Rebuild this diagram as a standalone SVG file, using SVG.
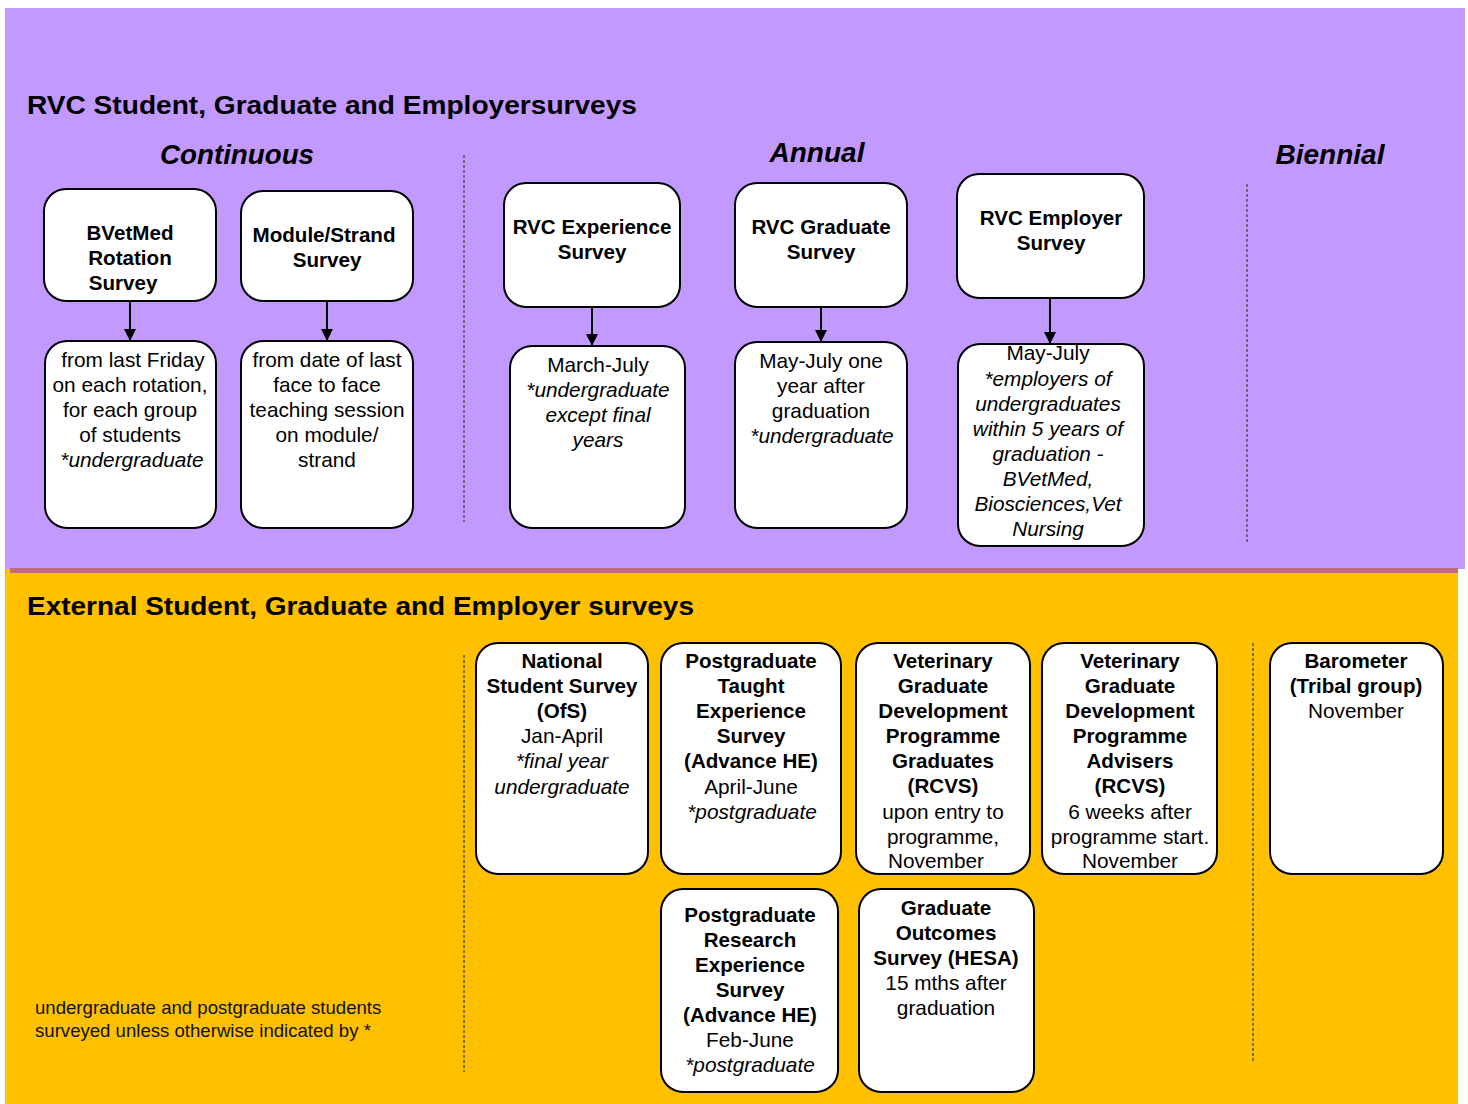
<svg xmlns="http://www.w3.org/2000/svg" width="1468" height="1104" viewBox="0 0 1468 1104">
<style>
.box{fill:#fff;stroke:#000;stroke-width:2}
.t{font-family:"Liberation Sans",Arial,sans-serif;font-size:20.8px;fill:#000;text-anchor:middle}
.b{font-weight:bold;font-size:20.6px}
.i{font-style:italic}
.h{font-family:"Liberation Sans",Arial,sans-serif;font-size:26.5px;font-weight:bold;fill:#000}
.hi{font-family:"Liberation Sans",Arial,sans-serif;font-size:27px;font-weight:bold;font-style:italic;fill:#000;text-anchor:middle}
.fn{font-family:"Liberation Sans",Arial,sans-serif;font-size:18.6px;fill:#111}
.dash{stroke:#555;stroke-width:1.5;stroke-dasharray:3 2;fill:none}
.conn{stroke:#000;stroke-width:2;fill:none}
</style>
<defs>
<marker id="arr" viewBox="0 0 12 12" refX="12" refY="6" markerWidth="12" markerHeight="12" markerUnits="userSpaceOnUse" orient="auto">
<path d="M0,0 L12,6 L0,12 Z" fill="#000"/>
</marker>
</defs>
<rect x="0" y="0" width="1468" height="1104" fill="#fff"/>
<rect x="5" y="8" width="1460" height="561" fill="#C299FF"/>
<rect x="5" y="569" width="1453" height="535" fill="#FFC000"/>
<rect x="10" y="568" width="1448" height="5" fill="#BF7070"/>

<text class="h" x="27" y="114" textLength="610" lengthAdjust="spacingAndGlyphs">RVC Student, Graduate and Employersurveys</text>
<text class="hi" x="237" y="164" textLength="154" lengthAdjust="spacingAndGlyphs">Continuous</text>
<text class="hi" x="817" y="162" textLength="95" lengthAdjust="spacingAndGlyphs">Annual</text>
<text class="hi" x="1330" y="164" textLength="109" lengthAdjust="spacingAndGlyphs">Biennial</text>
<text class="h" x="27" y="615" textLength="667" lengthAdjust="spacingAndGlyphs">External Student, Graduate and Employer surveys</text>

<g id="dividers">
<line class="dash" x1="464" y1="155" x2="464" y2="522"/>
<line class="dash" x1="1247" y1="184" x2="1247" y2="543"/>
<line class="dash" x1="464" y1="655" x2="464" y2="1072"/>
<line class="dash" x1="1253" y1="643" x2="1253" y2="1062"/>
</g>

<g id="connectors">
<line class="conn" x1="130" y1="301" x2="130" y2="341" marker-end="url(#arr)"/>
<line class="conn" x1="327" y1="301" x2="327" y2="341" marker-end="url(#arr)"/>
<line class="conn" x1="592" y1="307" x2="592" y2="346" marker-end="url(#arr)"/>
<line class="conn" x1="821" y1="307" x2="821" y2="342" marker-end="url(#arr)"/>
<line class="conn" x1="1050" y1="298" x2="1050" y2="344" marker-end="url(#arr)"/>
</g>

<g id="bvetmed">
<rect class="box" x="44" y="189" width="172" height="112" rx="22"/>
<text class="t b" x="130" y="240">BVetMed</text>
<text class="t b" x="130" y="265">Rotation</text>
<text class="t b" x="123" y="290">Survey</text>
</g>
<g id="module">
<rect class="box" x="241" y="191" width="172" height="110" rx="22"/>
<text class="t b" x="324" y="242">Module/Strand</text>
<text class="t b" x="327" y="267">Survey</text>
</g>
<g id="rvcexp">
<rect class="box" x="504" y="183" width="176" height="124" rx="22"/>
<text class="t b" x="592" y="234">RVC Experience</text>
<text class="t b" x="592" y="259">Survey</text>
</g>
<g id="rvcgrad">
<rect class="box" x="735" y="183" width="172" height="124" rx="22"/>
<text class="t b" x="821" y="234">RVC Graduate</text>
<text class="t b" x="821" y="259">Survey</text>
</g>
<g id="rvcemp">
<rect class="box" x="957" y="174" width="187" height="124" rx="22"/>
<text class="t b" x="1051" y="225">RVC Employer</text>
<text class="t b" x="1051" y="250">Survey</text>
</g>

<g id="bvetmed-detail">
<rect class="box" x="45" y="341" width="171" height="187" rx="22"/>
<text class="t" x="133" y="367">from last Friday</text>
<text class="t" x="130" y="392">on each rotation,</text>
<text class="t" x="130" y="417">for each group</text>
<text class="t" x="130" y="442">of students</text>
<text class="t i" x="132" y="467">*undergraduate</text>
</g>
<g id="module-detail">
<rect class="box" x="241" y="341" width="172" height="187" rx="22"/>
<text class="t" x="327" y="367">from date of last</text>
<text class="t" x="327" y="392">face to face</text>
<text class="t" x="327" y="417">teaching session</text>
<text class="t" x="327" y="442">on module/</text>
<text class="t" x="327" y="467">strand</text>
</g>
<g id="rvcexp-detail">
<rect class="box" x="510" y="346" width="175" height="182" rx="22"/>
<text class="t" x="598" y="372">March-July</text>
<text class="t i" x="598" y="397">*undergraduate</text>
<text class="t i" x="598" y="422">except final</text>
<text class="t i" x="598" y="447">years</text>
</g>
<g id="rvcgrad-detail">
<rect class="box" x="735" y="342" width="172" height="186" rx="22"/>
<text class="t" x="821" y="368">May-July one</text>
<text class="t" x="821" y="393">year after</text>
<text class="t" x="821" y="418">graduation</text>
<text class="t i" x="822" y="443">*undergraduate</text>
</g>
<g id="rvcemp-detail">
<rect class="box" x="958" y="344" width="186" height="202" rx="22"/>
<text class="t" x="1048" y="360">May-July</text>
<text class="t i" x="1048" y="386">*employers of</text>
<text class="t i" x="1048" y="411">undergraduates</text>
<text class="t i" x="1048" y="436">within 5 years of</text>
<text class="t i" x="1048" y="461">graduation -</text>
<text class="t i" x="1048" y="486">BVetMed,</text>
<text class="t i" x="1048" y="511">Biosciences,Vet</text>
<text class="t i" x="1048" y="536">Nursing</text>
</g>

<g id="nss">
<rect class="box" x="476" y="643" width="172" height="231" rx="22"/>
<text class="t b" x="562" y="668">National</text>
<text class="t b" x="562" y="693">Student Survey</text>
<text class="t b" x="562" y="718">(OfS)</text>
<text class="t" x="562" y="743">Jan-April</text>
<text class="t i" x="562" y="768">*final year</text>
<text class="t i" x="562" y="794">undergraduate</text>
</g>
<g id="ptes">
<rect class="box" x="661" y="643" width="180" height="231" rx="22"/>
<text class="t b" x="751" y="668">Postgraduate</text>
<text class="t b" x="751" y="693">Taught</text>
<text class="t b" x="751" y="718">Experience</text>
<text class="t b" x="751" y="743">Survey</text>
<text class="t b" x="751" y="768">(Advance HE)</text>
<text class="t" x="751" y="794">April-June</text>
<text class="t i" x="752" y="819">*postgraduate</text>
</g>
<g id="vgdp-graduates">
<rect class="box" x="856" y="643" width="174" height="231" rx="22"/>
<text class="t b" x="943" y="668">Veterinary</text>
<text class="t b" x="943" y="693">Graduate</text>
<text class="t b" x="943" y="718">Development</text>
<text class="t b" x="943" y="743">Programme</text>
<text class="t b" x="943" y="768">Graduates</text>
<text class="t b" x="943" y="793">(RCVS)</text>
<text class="t" x="943" y="819">upon entry to</text>
<text class="t" x="943" y="844">programme,</text>
<text class="t" x="936" y="868">November</text>
</g>
<g id="vgdp-advisers">
<rect class="box" x="1042" y="643" width="175" height="231" rx="22"/>
<text class="t b" x="1130" y="668">Veterinary</text>
<text class="t b" x="1130" y="693">Graduate</text>
<text class="t b" x="1130" y="718">Development</text>
<text class="t b" x="1130" y="743">Programme</text>
<text class="t b" x="1130" y="768">Advisers</text>
<text class="t b" x="1130" y="793">(RCVS)</text>
<text class="t" x="1130" y="819">6 weeks after</text>
<text class="t" x="1130" y="844">programme start.</text>
<text class="t" x="1130" y="868">November</text>
</g>
<g id="barometer">
<rect class="box" x="1270" y="643" width="173" height="231" rx="22"/>
<text class="t b" x="1356" y="668">Barometer</text>
<text class="t b" x="1356" y="693">(Tribal group)</text>
<text class="t" x="1356" y="718">November</text>
</g>
<g id="pres">
<rect class="box" x="661" y="889" width="177" height="203" rx="22"/>
<text class="t b" x="750" y="922">Postgraduate</text>
<text class="t b" x="750" y="947">Research</text>
<text class="t b" x="750" y="972">Experience</text>
<text class="t b" x="750" y="997">Survey</text>
<text class="t b" x="750" y="1022">(Advance HE)</text>
<text class="t" x="750" y="1047">Feb-June</text>
<text class="t i" x="750" y="1072">*postgraduate</text>
</g>
<g id="gos">
<rect class="box" x="859" y="889" width="175" height="203" rx="22"/>
<text class="t b" x="946" y="915">Graduate</text>
<text class="t b" x="946" y="940">Outcomes</text>
<text class="t b" x="946" y="965">Survey (HESA)</text>
<text class="t" x="946" y="990">15 mths after</text>
<text class="t" x="946" y="1015">graduation</text>
</g>

<g id="footnote">
<text class="fn" x="35" y="1014">undergraduate and postgraduate students</text>
<text class="fn" x="35" y="1037">surveyed unless otherwise indicated by *</text>
</g>
</svg>
